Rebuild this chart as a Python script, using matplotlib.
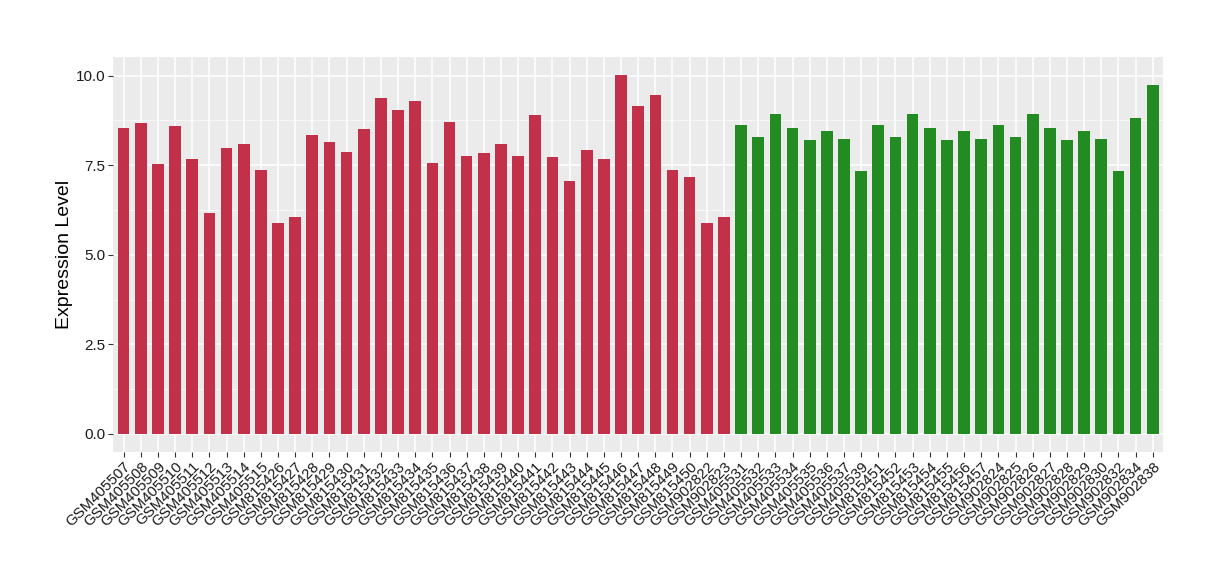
import matplotlib
matplotlib.use("Agg")
import matplotlib.pyplot as plt
import numpy as np
from matplotlib.ticker import MultipleLocator

red_samples = ["GSM405507", "GSM405508", "GSM405509", "GSM405510", "GSM405511",
               "GSM405512", "GSM405513", "GSM405514", "GSM405515", "GSM815426",
               "GSM815427", "GSM815428", "GSM815429", "GSM815430", "GSM815431",
               "GSM815432", "GSM815433", "GSM815434", "GSM815435", "GSM815436",
               "GSM815437", "GSM815438", "GSM815439", "GSM815440", "GSM815441",
               "GSM815442", "GSM815443", "GSM815444", "GSM815445", "GSM815446",
               "GSM815447", "GSM815448", "GSM815449", "GSM815450", "GSM902822",
               "GSM902823"]
red_values = [8.55, 8.69, 7.54, 8.60, 7.68, 6.17, 7.99, 8.10, 7.37, 5.89,
              6.06, 8.35, 8.16, 7.88, 8.52, 9.39, 9.05, 9.30, 7.57, 8.72,
              7.77, 7.85, 8.10, 7.77, 8.91, 7.74, 7.07, 7.93, 7.68, 10.03,
              9.16, 9.47, 7.37, 7.18, 5.89, 6.06]

green_samples = ["GSM405531", "GSM405532", "GSM405533", "GSM405534", "GSM405535",
                 "GSM405536", "GSM405537", "GSM405539", "GSM815451", "GSM815452",
                 "GSM815453", "GSM815454", "GSM815455", "GSM815456", "GSM815457",
                 "GSM902824", "GSM902825", "GSM902826", "GSM902827", "GSM902828",
                 "GSM902829", "GSM902830", "GSM902832", "GSM902834", "GSM902838"]
green_values = [8.63, 8.30, 8.94, 8.55, 8.21, 8.46, 8.24, 7.35, 8.63, 8.30,
                8.94, 8.55, 8.21, 8.46, 8.24, 8.63, 8.30, 8.94, 8.55, 8.21,
                8.46, 8.24, 7.35, 8.83, 9.75]

red_color = "#C3304A"
green_color = "#228B22"

plt.rcParams['font.family'] = ['Liberation Sans', 'DejaVu Sans']

fig = plt.figure(figsize=(12.2, 5.8), dpi=100)
ax = fig.add_axes([0.0929, 0.2212, 0.9533 - 0.0929, 0.9022 - 0.2212])

labels = red_samples + green_samples
values = red_values + green_values
colors = [red_color] * len(red_samples) + [green_color] * len(green_samples)
x = np.arange(1, len(labels) + 1)

ax.set_facecolor("#EBEBEB")
ax.bar(x, values, width=0.68, color=colors, zorder=3)

ax.set_xlim(0.4, len(labels) + 0.6)
ax.set_ylim(-0.5, 10.53)
ax.yaxis.set_minor_locator(MultipleLocator(1.25))
ax.set_yticks([0, 2.5, 5.0, 7.5, 10.0])
ax.set_yticklabels(["0.0", "2.5", "5.0", "7.5", "10.0"])
ax.set_xticks(x)
ax.set_xticklabels(labels, rotation=45, ha="right", rotation_mode="anchor")

ax.grid(which="major", color="white", linewidth=1.1, zorder=0)
ax.grid(which="minor", axis="y", color="white", linewidth=0.5, zorder=0)
ax.tick_params(which="minor", length=0)
ax.tick_params(which="major", length=3.5, width=0.8, color="#333333", labelcolor="#1a1a1a")
ax.tick_params(axis="y", labelsize=11, pad=2)
ax.tick_params(axis="x", labelsize=10.8, pad=2)
for s in ax.spines.values():
    s.set_visible(False)

ax.set_ylabel("Expression Level", fontsize=14, labelpad=2)

fig.savefig("out.png", dpi=100)
